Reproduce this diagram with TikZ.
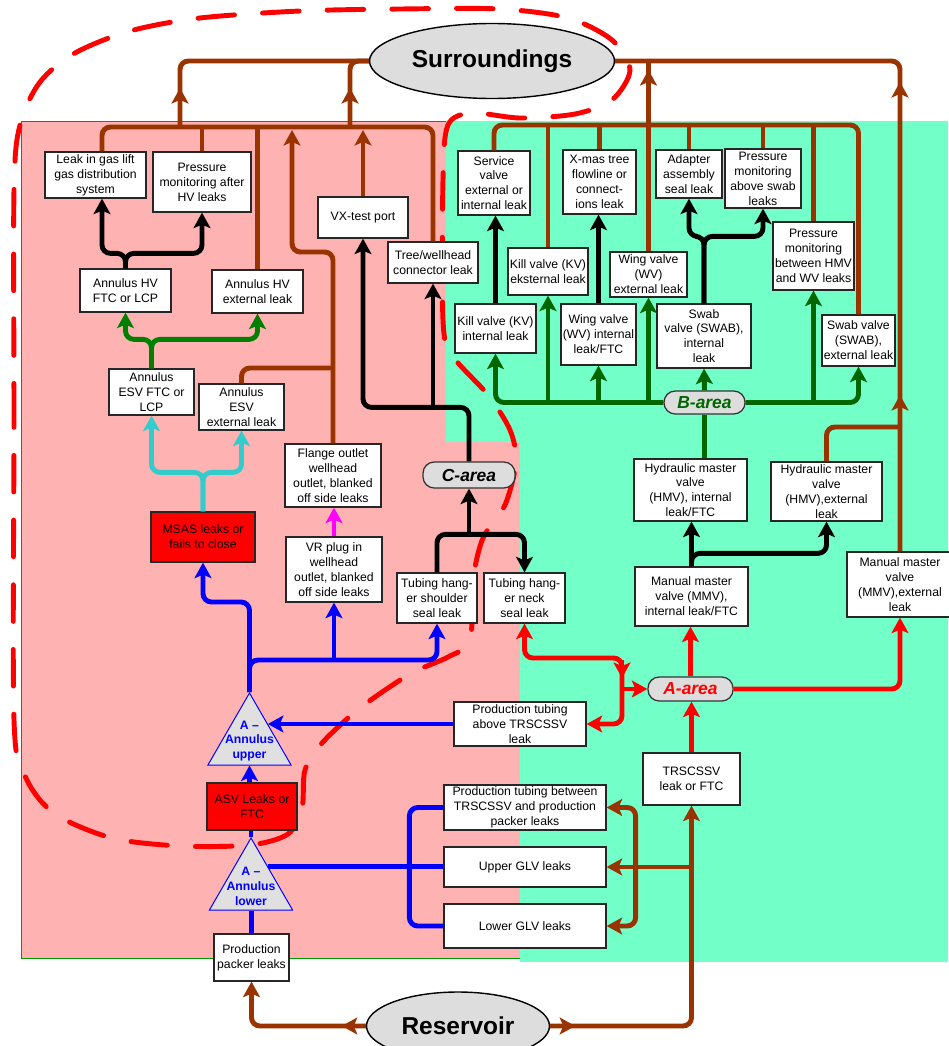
\documentclass[tikz,border=0pt]{standalone}
\usepackage{fontspec}
\setmainfont{Liberation Sans}
\usetikzlibrary{arrows.meta, shapes.geometric}

\definecolor{cPink}{RGB}{255,178,178}
\definecolor{cMint}{RGB}{115,255,200}
\definecolor{cBrn}{RGB}{153,51,0}
\definecolor{cGrn}{RGB}{0,128,0}
\definecolor{cDgrn}{RGB}{0,102,0}
\definecolor{cCyn}{RGB}{51,204,204}
\definecolor{cMag}{RGB}{255,0,255}
\definecolor{cGray}{RGB}{221,221,221}

\begin{document}
\begin{tikzpicture}[
    x=0.025cm, y=-0.025cm,
    >={Stealth[length=11pt, width=12pt, inset=2.5pt]},
    wh/.style 2 args={minimum width=#1*0.025cm, minimum height=#2*0.025cm},
    box/.style={draw=black!85, fill=white, line width=0.9pt, align=center,
                inner sep=1pt, font=\fontsize{8.7}{10.6}\selectfont},
    redbox/.style={box, fill=red},
    pill/.style={draw=black!80, fill=cGray, line width=0.9pt, rounded corners=8pt,
                 inner sep=0pt, font=\fontsize{12.4}{14}\selectfont\bfseries\itshape},
    oval/.style={ellipse, draw, fill=cGray, line width=1pt, inner sep=0pt,
                 font=\fontsize{17.4}{20}\selectfont\bfseries},
    tri/.style={regular polygon, regular polygon sides=3, draw=blue, fill=black!12,
                line width=0.7pt, inner sep=0pt, minimum size=96*0.025cm},
    tritxt/.style={align=center, text=blue, inner sep=0pt,
                   font=\fontsize{8.7}{10.6}\selectfont\bfseries},
    flow/.style={line width=3.5pt, rounded corners=6pt},
    brn/.style={flow, draw=cBrn},
    blk/.style={flow, draw=black},
    grn/.style={flow, draw=cGrn},
    dgrn/.style={flow, draw=cDgrn},
    cyn/.style={flow, draw=cCyn},
    mag/.style={flow, draw=cMag},
    blu/.style={flow, draw=blue},
    rd/.style={flow, draw=red}
  ]
  \useasboundingbox (0,0) rectangle (948,1046);

  \fill[cPink] (21,121) rectangle (520,958);
  \fill[cMint] (446,121) rectangle (948,442);
  \fill[cMint] (520,442) rectangle (948,962);
  \draw[green!60!black, line width=0.7pt] (446,121) -- (21,121) -- (21,958) -- (520,958);

  \draw[red, line width=3.5pt, line cap=round, dash pattern=on 26pt off 20pt]
    plot[smooth cycle, tension=0.5] coordinates {
      (14,720) (14,420) (14,190) (20,125) (40,82) (75,53) (130,31) (200,18)
      (300,11) (400,9) (500,9) (568,18) (612,40) (630,70) (612,100) (575,114)
      (520,118) (472,113) (448,125) (443,180) (443,320) (452,355) (488,395)
      (510,430) (516,462) (505,505) (483,538) (473,580) (470,640) (448,657)
      (410,674) (360,708) (322,743) (305,770) (302,808) (288,834) (250,845)
      (180,846) (112,838) (55,814) (26,778)};

  \node[oval, wh={245}{75}] (surr) at (492,61) {Surroundings};
  \node[oval, wh={183}{68}] (res) at (458,1026) {Reservoir};

  \node[box, wh={101}{46}] (gaslift) at (95.5,175) {Leak in gas lift\\gas distribution\\system};
  \node[box, wh={98}{60}] (pmhv) at (202,182) {Pressure\\monitoring after\\HV leaks};
  \node[box, wh={90}{41}] (vx) at (363,217.5) {VX-test port};
  \node[box, wh={90}{41}] (tree) at (433,262.5) {Tree/wellhead\\connector leak};
  \node[box, wh={91}{43}] (hvftc) at (125.5,290.5) {Annulus HV\\FTC or LCP};
  \node[box, wh={91}{43}] (hvext) at (257.5,291.5) {Annulus HV\\external leak};
  \node[box, wh={85}{46}] (esvftc) at (151.5,392) {Annulus\\ESV FTC or\\LCP};
  \node[box, wh={85}{46}] (esvext) at (241.5,407) {Annulus\\ESV\\external leak};
  \node[box, wh={96}{63}] (flange) at (333,475.5) {Flange outlet\\wellhead\\outlet, blanked\\off side leaks};
  \node[redbox, wh={104}{50}] (msas) at (203,537) {MSAS leaks or\\fails to close};
  \node[box, wh={96}{65}] (vrplug) at (334,569.5) {VR plug in\\wellhead\\outlet, blanked\\off side leaks};
  \node[box, wh={80}{50}] (shoulder) at (437,598) {Tubing hang-\\er shoulder\\seal leak};
  \node[box, wh={81}{50}] (neck) at (524.5,598) {Tubing hang-\\er neck\\seal leak};
  \node[box, wh={132}{44}] (ptab) at (520,724) {Production tubing\\above TRSCSSV\\leak};
  \node[pill, wh={92}{26}] (carea) at (469,475) {C-area};

  \node[box, wh={72}{64}] (service) at (494,183) {Service\\valve\\external or\\internal leak};
  \node[box, wh={73}{64}] (xmas) at (599.5,182) {X-mas tree\\flowline or\\connect-\\ions leak};
  \node[box, wh={66}{48}] (adapter) at (689,174) {Adapter\\assembly\\seal leak};
  \node[box, wh={76}{59}] (pmswab) at (763,178.5) {Pressure\\monitoring\\above swab\\leaks};
  \node[box, wh={80}{47}] (kvext) at (548,271.5) {Kill valve (KV)\\eksternal leak};
  \node[box, wh={77}{45}] (wvext) at (648.5,274.5) {Wing valve\\(WV)\\external leak};
  \node[box, wh={81}{68}] (pmhmv) at (813.5,256) {Pressure\\monitoring\\between HMV\\and WV leaks};
  \node[box, wh={81}{49}] (kvint) at (495.5,328.5) {Kill valve (KV)\\internal leak};
  \node[box, wh={75}{61}] (wvint) at (598.5,334.5) {Wing valve\\(WV) internal\\leak/FTC};
  \node[box, wh={94}{64}] (swabint) at (704,336) {Swab\\valve (SWAB),\\internal\\leak};
  \node[box, wh={73}{51}] (swabext) at (858.5,340.5) {Swab valve\\(SWAB),\\external leak};
  \node[pill, wh={81}{23}, text=cDgrn] (barea) at (704.5,402.5) {B-area};
  \node[box, wh={113}{62}] (hmvint) at (690.5,490) {Hydraulic master\\valve\\(HMV), internal\\leak/FTC};
  \node[box, wh={111}{59}] (hmvext) at (826.5,491.5) {Hydraulic master\\valve\\(HMV),external\\leak};
  \node[box, wh={113}{59}] (mmvint) at (691.5,596.5) {Manual master\\valve (MMV),\\internal leak/FTC};
  \node[box, wh={106}{65}] (mmvext) at (900,584.5) {Manual master\\valve\\(MMV),external\\leak};
  \node[pill, wh={85}{24}, text=red] (aarea) at (690.5,689) {A-area};
  \node[box, wh={97}{52}] (trscssv) at (691.5,779) {TRSCSSV\\leak or FTC};

  \node[tri, label={[tritxt]center:A –\\Annulus\\upper}] (aup) at (249.5,741) {};
  \node[redbox, wh={90}{47}] (asv) at (252,806.5) {ASV Leaks or\\FTC};
  \node[tri, label={[tritxt]center:A –\\Annulus\\lower}] (alow) at (251,886) {};
  \node[box, wh={75}{47}] (packer) at (251.5,957.5) {Production\\packer leaks};
  \node[box, wh={162}{45}] (ptbet) at (525,807.5) {Production tubing between\\TRSCSSV and production\\packer leaks};
  \node[box, wh={162}{40}] (upglv) at (525,867) {Upper GLV leaks};
  \node[box, wh={162}{44}] (loglv) at (525,926) {Lower GLV leaks};

  \coordinate (lbus) at (0,127);
  \coordinate (rbus) at (0,125);

  \draw[brn] (gaslift.north -| 102,0) |- (tree.north |- lbus) -- (tree.north);
  \draw[brn] (pmhv.north) -- (pmhv.north |- lbus);
  \draw[brn] (hvext.north) -- (hvext.north |- lbus);
  \draw[brn,->] (flange.north) |- (292,252) -- (292,130);
  \draw[brn] (esvext.north) |- (flange.north |- 0,368);
  \draw[brn,->] (vx.north) -- (vx.north |- 0,130);
  \draw[brn] (180,127) |- (surr.west);
  \draw[brn] (350,127) |- (surr.west);
  \draw[brn,->] (180,110) -- (180,88);
  \draw[brn,->] (350,110) -- (350,88);

  \draw[brn] (service.north) |- (swabext.north |- rbus) -- (swabext.north);
  \foreach \n in {kvext, xmas, adapter, pmswab, pmhmv}
    \draw[brn] (\n.north) -- (\n.north |- rbus);
  \draw[brn] (wvext.north) -- (wvext.north |- surr.east);
  \draw[brn,->] (wvext.north |- 0,95) -- (wvext.north |- 0,70);
  \draw[brn] (mmvext.north) |- (surr.east);
  \draw[brn,->] (mmvext.north |- 0,110) -- (mmvext.north |- 0,82);
  \draw[brn,->] (mmvext.north |- 0,420) -- (mmvext.north |- 0,395);
  \draw[brn] (hmvext.north) |- (mmvext.north |- 0,427);

  \draw[brn,->] (res.west) -| (packer.south);
  \draw[brn,->] (res.west) -- ++(-24,0);
  \draw[brn,->] (res.east) -| (trscssv.south);
  \draw[brn,->] (res.east) -- ++(25,0);
  \draw[brn,->] (trscssv.south |- upglv.east) -- (upglv.east);
  \draw[brn,<->] (ptbet.east) -- ++(29,0) |- (loglv.east);

  \draw[blk,->] (hvftc.north) -- ++(0,-15) -| (gaslift.south -| 102,0);
  \draw[blk,->] (hvftc.north) -- ++(0,-15) -| (pmhv.south);
  \draw[blk,->] (carea.north) -- ++(0,-54) -| (vx.south);
  \draw[blk,->] (tree.south |- 0,408) -- (tree.south);
  \draw[blk,->] (shoulder.north) -- ++(0,-38) -| (neck.north);
  \draw[blk,->] (carea.south |- 0,535) -- (carea.south);
  \draw[blk,->] (kvint.north) -- (kvint.north |- service.south);
  \draw[blk,->] (wvint.north) -- (wvint.north |- xmas.south);
  \draw[blk,->] (swabint.north) -- ++(0,-67) -| (adapter.south);
  \draw[blk,->] (swabint.north) -- ++(0,-67) -| (pmswab.south);
  \draw[blk,->] (mmvint.north) -- (mmvint.north |- hmvint.south);
  \draw[blk,->] (mmvint.north) -- ++(0,-13) -| (hmvext.south);

  \draw[grn,->] (esvftc.north) -- ++(0,-29) -| (hvftc.south);
  \draw[grn,->] (esvftc.north) -- ++(0,-29) -| (hvext.south);
  \draw[dgrn,->] (barea.west) -| (kvint.south);
  \draw[dgrn,->] (barea.east) -| (swabext.south);
  \foreach \n in {kvext, wvint, wvext, pmhmv}
    \draw[dgrn,->] (\n.south |- barea.west) -- (\n.south);
  \draw[dgrn,->] (barea.north) -- (swabint.south);
  \draw[dgrn] (barea.south) -- (barea.south |- hmvint.north);

  \draw[cyn,->] (msas.north) -- ++(0,-39) -| (esvftc.south);
  \draw[cyn,->] (msas.north) -- ++(0,-39) -| (esvext.south);
  \draw[mag,->] (vrplug.north) -- (vrplug.north |- flange.south);

  \draw[blu,->] (aup.north) -- ++(0,-32) -| (shoulder.south);
  \draw[blu,->] (vrplug.south |- 0,661) -- (vrplug.south);
  \draw[blu,->] (aup.north) -- ++(0,-90) -| (msas.south);
  \draw[blu,->] (ptab.west) -- (ptab.west -| aup.43);
  \draw[blu,->] (aup.south |- asv.north) -- (aup.south);
  \draw[blu] (alow.north) -- (alow.north |- asv.south);
  \draw[blu] (packer.north) -- (packer.north |- alow.south);
  \draw[blu] (alow.48) -- (alow.48 -| upglv.west);
  \draw[blu] (ptbet.west) -- ++(-34,0) |- (loglv.west);

  \draw[rd,->] (trscssv.north) -- (trscssv.north |- aarea.south);
  \draw[rd,->] (aarea.north) -- (aarea.north |- mmvint.south);
  \draw[rd,->] (aarea.east) -| (mmvext.south);
  \draw[rd,<->] (neck.south) |- (622,658) |- (ptab.east);
  \draw[rd,->] (622,660) -- (622,678);
  \draw[rd,->] (aarea.west -| 622,0) -- (aarea.west);
\end{tikzpicture}
\end{document}
